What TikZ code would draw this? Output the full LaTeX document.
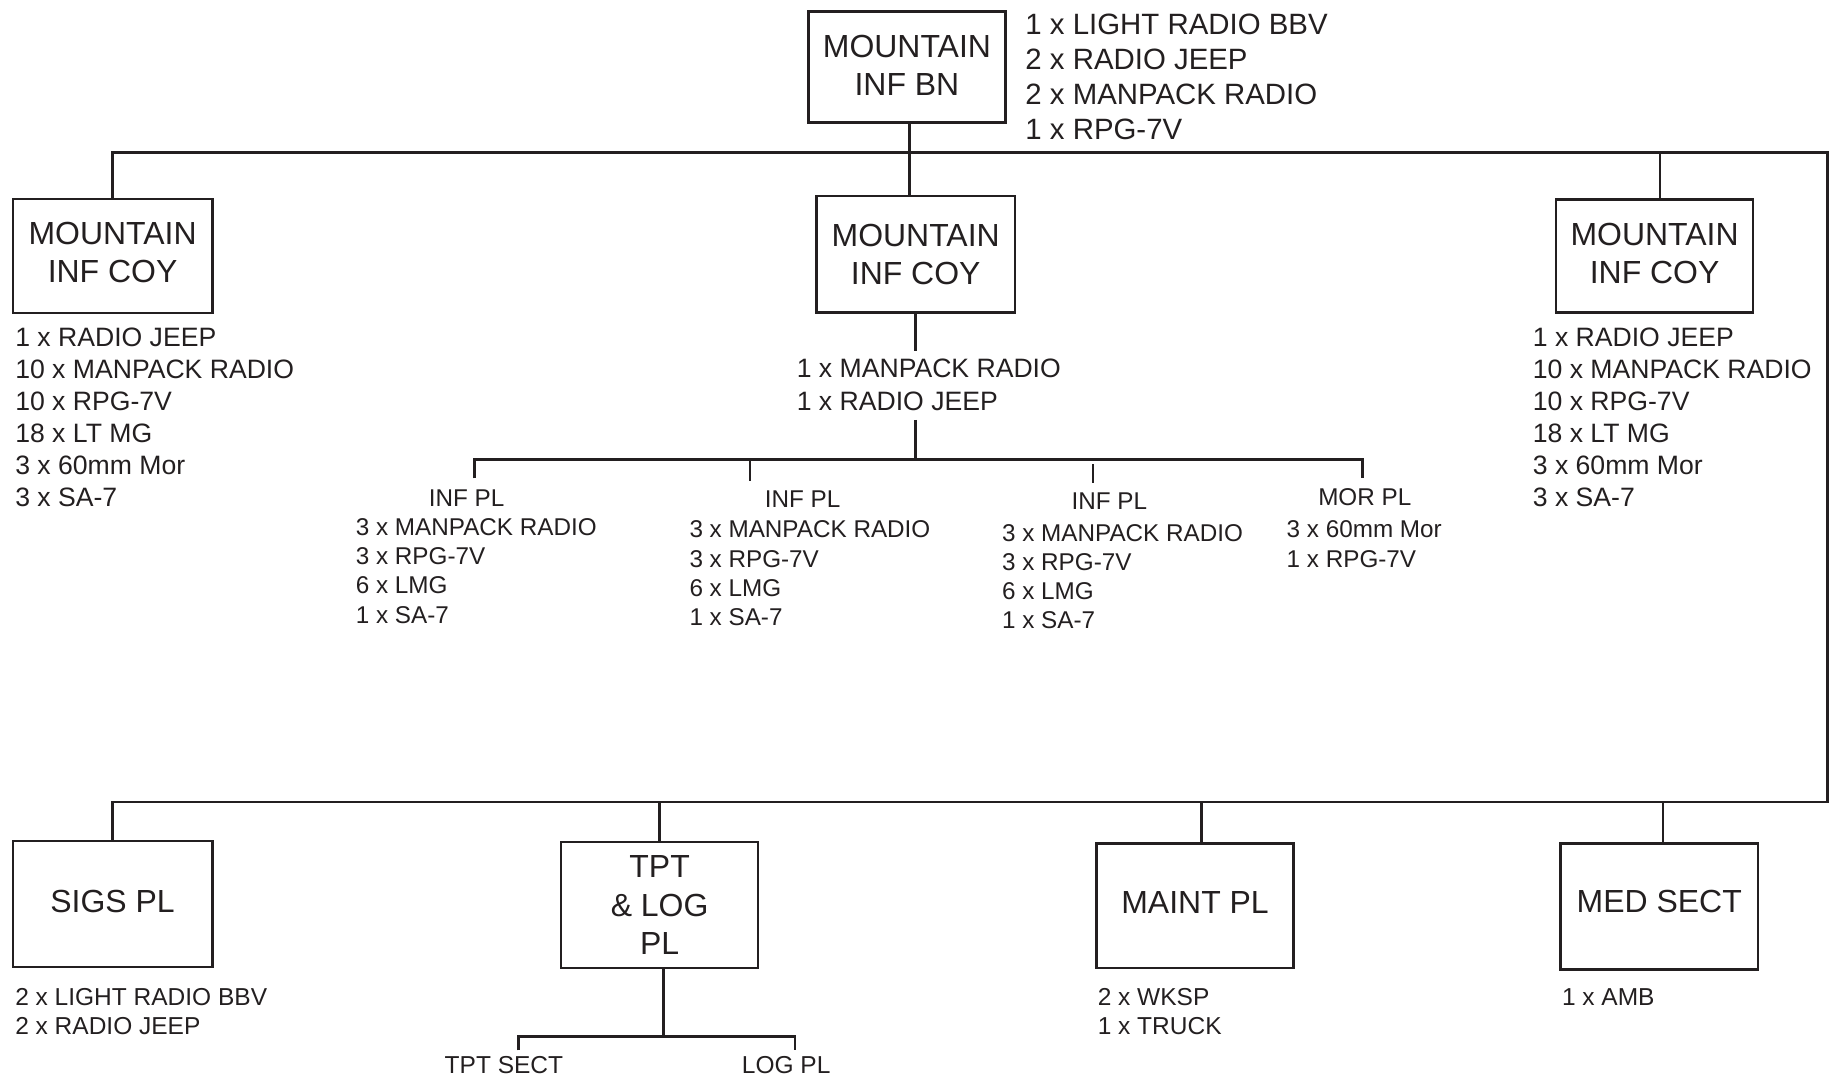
\documentclass[tikz,border=0pt]{standalone}
\usepackage{fontspec}
\setmainfont{Liberation Sans}
\definecolor{ink}{HTML}{231F20}
\begin{document}
\begin{tikzpicture}[x=0.5pt,y=-0.5pt,line width=1.1pt,draw=ink,text=ink,
  unitbox/.style={draw=ink,line width=1.1pt,inner sep=0pt,align=center,
    font=\fontsize{13.7}{16.5}\selectfont},
  lst/.style={inner sep=0pt,anchor=north west,align=left},
  bnlist/.style={lst,font=\fontsize{12.6}{15}\selectfont},
  coylist/.style={lst,font=\fontsize{11.4}{13.75}\selectfont},
  midlist/.style={lst,font=\fontsize{11.4}{14}\selectfont},
  pllist/.style={lst,font=\fontsize{10.4}{12.5}\selectfont},
  pltitle/.style={inner sep=0pt,anchor=center,font=\fontsize{10.4}{12.5}\selectfont},
  botlist/.style={lst,font=\fontsize{10.5}{12.5}\selectfont},
  bottitle/.style={inner sep=0pt,anchor=center,font=\fontsize{10.5}{12.5}\selectfont}]
\useasboundingbox (0,0) rectangle (1568,923);

% ---- boxes
\node[unitbox,minimum width=84.5pt,minimum height=47.5pt,text depth=1.5pt] (bn) at (777.5,57.5) {MOUNTAIN\\INF BN};
\node[unitbox,minimum width=85.5pt,minimum height=49pt,text depth=3pt] (coyL) at (96.5,219.5) {MOUNTAIN\\INF COY};
\node[unitbox,minimum width=85pt,minimum height=50pt] (coyM) at (785,218) {MOUNTAIN\\INF COY};
\node[unitbox,minimum width=84.5pt,minimum height=48.5pt,text depth=2.5pt] (coyR) at (1418.5,219.5) {MOUNTAIN\\INF COY};
\node[unitbox,minimum width=85.5pt,minimum height=54pt,text depth=2pt] (sigs) at (96.5,775) {SIGS PL};
\node[unitbox,minimum width=84.5pt,minimum height=54pt] (tpt) at (565.5,776) {TPT\\\& LOG\\PL};
\node[unitbox,minimum width=84.5pt,minimum height=53.5pt,text depth=3pt] (maint) at (1024.5,776.5) {MAINT PL};
\node[unitbox,minimum width=84.5pt,minimum height=54pt,text depth=4pt] (med) at (1422.5,777) {MED SECT};

% ---- equipment lists
\node[bnlist] (bnl) at (878,11) {1 x LIGHT RADIO BBV\\2 x RADIO JEEP\\2 x MANPACK RADIO\\1 x RPG-7V};
\node[coylist] (coyLl) at (12,280) {1 x RADIO JEEP\\10 x MANPACK RADIO\\10 x RPG-7V\\18 x LT MG\\3 x 60mm Mor\\3 x SA-7};
\node[coylist] (coyRl) at (1313,280) {1 x RADIO JEEP\\10 x MANPACK RADIO\\10 x RPG-7V\\18 x LT MG\\3 x 60mm Mor\\3 x SA-7};
\node[midlist] (coyMl) at (682,307) {1 x MANPACK RADIO\\1 x RADIO JEEP};

\node[pltitle] (pl1t) at (400,427) {INF PL};
\node[pllist] (pl1l) at (304,443.5) {3 x MANPACK RADIO\\3 x RPG-7V\\6 x LMG\\1 x SA-7};
\node[pltitle] (pl2t) at (688,428) {INF PL};
\node[pllist] (pl2l) at (590,445.5) {3 x MANPACK RADIO\\3 x RPG-7V\\6 x LMG\\1 x SA-7};
\node[pltitle] (pl3t) at (951,430) {INF PL};
\node[pllist] (pl3l) at (858,448.5) {3 x MANPACK RADIO\\3 x RPG-7V\\6 x LMG\\1 x SA-7};
\node[pltitle] (pl4t) at (1170,426) {MOR PL};
\node[pllist] (pl4l) at (1102,445.5) {3 x 60mm Mor\\1 x RPG-7V};

\node[botlist] (sigsl) at (12,846.5) {2 x LIGHT RADIO BBV\\2 x RADIO JEEP};
\node[botlist] (maintl) at (940,846.5) {2 x WKSP\\1 x TRUCK};
\node[botlist] (medl) at (1338,846.5) {1 x AMB};
\node[bottitle] (tpts) at (432,913) {TPT SECT};
\node[bottitle] (logp) at (674,913) {LOG PL};

% ---- bus coordinates
\coordinate (tr) at (1566.5,130.5);
\coordinate (br) at (1566.5,687.5);
\coordinate (mA) at (785,300.5);
\coordinate (mB) at (785,360);
\coordinate (pbus) at (0,394);
\coordinate (p1) at (407,410);
\coordinate (p2) at (643,412);
\coordinate (p3a) at (937,398);
\coordinate (p3) at (937,414);
\coordinate (p4) at (1168,410);
\coordinate (tbus) at (0,888.5);
\coordinate (t1) at (444.5,900.5);
\coordinate (t2) at (681.5,900.5);

% ---- connectors
\draw (coyL.north) |- (tr) -- (br) -| (sigs.north);
\draw ([xshift=1pt]bn.south) -- ([xshift=1pt]bn.south |- coyM.north);
\draw ([xshift=2.25pt]coyR.north) -- ([xshift=2.25pt]coyR.north |- tr);
\draw (tpt.north) -- (tpt.north |- br);
\draw ([xshift=2.75pt]maint.north) -- ([xshift=2.75pt]maint.north |- br);
\draw ([xshift=1.5pt]med.north) -- ([xshift=1.5pt]med.north |- br);

\draw (coyM.south) -- (mA);
\draw (mB) -- (mB |- pbus);
\draw (p1) -- (p1 |- pbus) -- (p4 |- pbus) -- (p4);
\draw (p2) -- (p2 |- pbus);
\draw (p3a) -- (p3);

\draw ([xshift=1.75pt]tpt.south) -- ([xshift=1.75pt]tpt.south |- tbus);
\draw (t1) -- (t1 |- tbus) -- (t2 |- tbus) -- (t2);
\end{tikzpicture}
\end{document}
